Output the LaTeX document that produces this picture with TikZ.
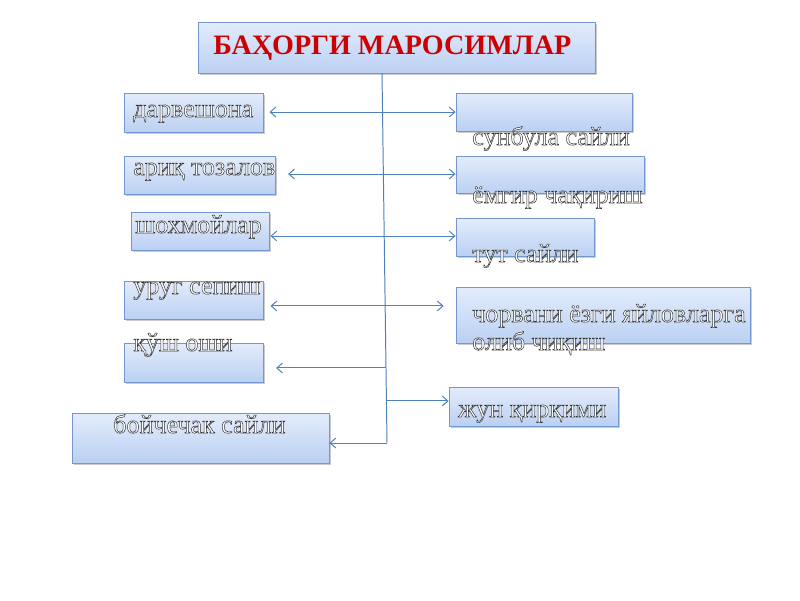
\documentclass[tikz,border=0pt]{standalone}
\usepackage{fontspec}
\setmainfont{Liberation Serif}
\usetikzlibrary{arrows.meta,shadows,calc}
\tikzset {>={Straight Barb[length=4pt,width=7pt]}}

\definecolor{boxtop}{HTML}{E3ECFB}
\definecolor{boxbot}{HTML}{BBD0F3}
\definecolor{boxline}{HTML}{7397CF}
\definecolor{linkblue}{HTML}{4F81BD}
\definecolor{titlered}{HTML}{CC0000}

\newcommand\pxu{0.025cm}
% white letters with a thin dark rim
\newcommand\hollow[1]{\special{pdf:literal direct 1 1 1 rg 0.2 0.2 0.2 RG 0.35 w 2 Tr}#1\special{pdf:literal direct 0 Tr 0 g 0 G}}

\tikzset{
  panel/.style 2 args={draw=boxline, line width=.6pt, top color=boxtop, bottom color=boxbot,
    drop shadow={shadow xshift=1.5pt, shadow yshift=-1.5pt, fill=black!40, opacity=.5},
    inner sep=0pt, minimum width=#1*\pxu, minimum height=#2*\pxu},
  word/.style={inner sep=0pt, anchor=base west, font=\fontsize{18.5}{20}\selectfont},
  link/.style={->, draw=linkblue, line width=.7pt}
}

\begin{document}
\begin{tikzpicture}[x=0.025cm, y=-0.025cm]
\fill[white] (0,0) rectangle (800,600);
\useasboundingbox (0,0) rectangle (800,600);

% boxes
\node[panel={397}{51}] (title) at (396.5,47.5) {};
\node[panel={139}{39}] (darv) at (193.5,112.5) {};
\node[panel={151}{38}] (ariq) at (199.5,175) {};
\node[panel={138}{38}] (shox) at (200,231) {};
\node[panel={139}{38}] (urug) at (193.5,300) {};
\node[panel={139}{39}] (qush) at (193.5,362.5) {};
\node[panel={257}{50}] (boych) at (200.5,438) {};
\node[panel={176}{38}] (sunb) at (544,112) {};
\node[panel={188}{37}] (yomg) at (550,174.5) {};
\node[panel={138}{38}] (tut) at (525,237) {};
\node[panel={294}{56}] (chor) at (603,315) {};
\node[panel={169}{39}] (jun) at (533.5,406.5) {};

% texts
\node[inner sep=0pt, anchor=base west, text=titlered, font=\fontsize{20}{22}\selectfont\bfseries]
  (title-t) at (213,54) {БАҲОРГИ МАРОСИМЛАР};
\node[word] (darv-t) at (133,117) {\hollow{дарвешона}};
\node[word] (ariq-t) at (133,175) {\hollow{ариқ тозалов}};
\node[word] (shox-t) at (135,233) {\hollow{шохмойлар}};
\node[word] (urug-t) at (133,294) {\hollow{уруг сепиш}};
\node[word] (qush-t) at (133,351) {\hollow{қўш оши}};
\node[word] (boych-t) at (113,433) {\hollow{бойчечак сайли}};
\node[word] (sunb-t) at (472,145) {\hollow{сунбула сайли}};
\node[word] (yomg-t) at (472,203) {\hollow{ёмгир чақириш}};
\node[word] (tut-t) at (472,262) {\hollow{тут сайли}};
\node[word] (chor-t) at (472,322) {\hollow{чорвани ёзги яйловларга}};
\node[word] (chor-t2) at (472,350) {\hollow{олиб чиқиш}};
\node[word] (jun-t) at (458,417) {\hollow{жун қирқими}};

% trunk
\path
  (382,73) coordinate (trunk-top)
  (387,443) coordinate (trunk-end);
\draw[draw=linkblue, line width=.7pt] (trunk-top) -- (trunk-end);

\foreach \y/\name in {112/r1,174/r2,236/r3,306/r4,368/r5,401/r6}
  \coordinate (\name) at ($(trunk-top)!(384,\y)!(trunk-end)$);

\foreach \row/\goal/\gap in {r1/darv/4.3pt,r2/ariq/9pt,r3/shox/.7pt,r4/urug/5pt,r5/qush/9pt}
  \draw[link, shorten >=\gap] (\row) -- (\row -| \goal.east);
\draw[link] (trunk-end) -- (trunk-end -| boych.east);

\foreach \row/\goal/\gap in {r1/sunb/0pt,r2/yomg/0pt,r3/tut/0pt,r4/chor/8.5pt,r6/jun/0pt}
  \draw[link, shorten >=\gap] (\row) -- (\row -| \goal.west);
\end{tikzpicture}
\end{document}
